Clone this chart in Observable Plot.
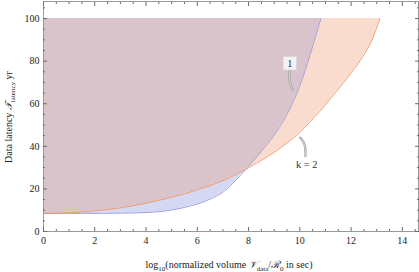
<!DOCTYPE html>
<html><head><meta charset="utf-8">
<script src="https://cdn.jsdelivr.net/npm/d3@7"></script>
<script src="https://cdn.jsdelivr.net/npm/@observablehq/plot@0.6"></script>
<style>body{margin:0;background:#fff} svg{display:block}</style>
</head><body><div id="chart"></div>
<script>
// shared grid of log10 normalized volume
const gridX = [0,0.5,1,1.5,2,2.5,3,3.5,4,4.5,5,5.5,6,6.5,7,7.5,7.85,8,8.5,9,9.5,10,10.4,10.82,11.2,11.6,12,12.5,12.8,13.12];
// curve "1" (blue) – ends where it reaches the top at 100
const blueY = [8.5,8.5,8.5,8.5,8.5,8.55,8.6,8.7,8.9,9.3,10.1,11.3,12.9,15.2,18.5,24,28.6,30.6,37.6,45.3,55,68.5,83,100,null,null,null,null,null,null];
// curve "k = 2" (orange)
const orangeY = [8.5,8.6,8.8,9.2,9.7,10.3,11.1,12.1,13.3,14.6,16.1,17.7,19.6,21.6,23.9,26.7,28.9,29.9,33.4,37.2,41.6,46.5,51.5,57,62.5,68.3,74.5,83,89.5,100];
const topLatency = 100;

const xMajor = [0,2,4,6,8,10,12,14];
const xMinor = d3.range(0, 14.6, 0.5).filter(v => v % 2 !== 0);
const yMajor = [0,20,40,60,80,100];
const yMinor = d3.range(0, 108, 5).filter(v => v % 20 !== 0);

// callouts
const calloutOneText = [{x: 9.61, y: 79, t: "1"}];
const calloutOneLine = [{x: 9.6, y: 75.4}, {x: 9.6, y: 71.2}, {x: 9.72, y: 66.6}];
const calloutTwoText = [{x: 10.27, y: 31.5, t: "k = 2"}];
const calloutTwoLine = [{x: 10.02, y: 44.0}, {x: 10.18, y: 41.0}, {x: 10.22, y: 35.4}];

const rows = gridX.map((x, i) => ({x, blue: blueY[i], orange: orangeY[i]}));
const blueRows = rows.filter(d => d.blue != null);

const frameColor = "#9a9a9a";
const tickColor = "#6a6a6a";

function tickAxes(ticks, size) {
  return [
    Plot.axisX(ticks, {anchor: "bottom", tickSize: -size, fill: "none", stroke: tickColor, label: null}),
    Plot.axisX(ticks, {anchor: "top", tickSize: -size, fill: "none", stroke: tickColor, label: null})
  ];
}

const plot = Plot.plot({
  width: 419, height: 272,
  marginLeft: 43, marginRight: 1, marginTop: 1, marginBottom: 41,
  x: {domain: [0, 14.63]},
  y: {domain: [0, 108]},
  r: {type: "identity"},
  style: {fontFamily: "'Liberation Serif', serif", fontSize: "10px", color: "#222", background: "white"},
  marks: [
    Plot.areaY(blueRows, {x: "x", y1: "blue", y2: topLatency, fill: "#d4d8f3", curve: "monotone-x"}),
    Plot.areaY(rows, {x: "x", y1: "orange", y2: topLatency, fill: "#f9dccd", curve: "monotone-x"}),
    Plot.areaY(blueRows, {x: "x", y1: d => Math.max(d.blue, d.orange), y2: topLatency, fill: "#d9c4cb", curve: "monotone-x"}),
    Plot.line(blueRows, {x: "x", y: "blue", stroke: "#9c9fe0", strokeWidth: 1, curve: "monotone-x"}),
    Plot.line(rows, {x: "x", y: "orange", stroke: "#f29a6a", strokeWidth: 1, curve: "monotone-x"}),
    Plot.line(calloutOneLine, {x: "x", y: "y", stroke: "#a5a5a5", strokeWidth: 2.4, curve: "catmull-rom"}),
    Plot.line(calloutOneLine, {x: "x", y: "y", stroke: "#e6e6e6", strokeWidth: 0.8, curve: "catmull-rom"}),
    Plot.line(calloutTwoLine, {x: "x", y: "y", stroke: "#a5a5a5", strokeWidth: 2.4, curve: "catmull-rom"}),
    Plot.line(calloutTwoLine, {x: "x", y: "y", stroke: "#e6e6e6", strokeWidth: 0.8, curve: "catmull-rom"}),
    Plot.dot(calloutOneText, {x: "x", y: "y", symbol: "square", r: 7.6, fill: "#f4f2f2", stroke: "#d6d6d6", strokeWidth: 0.8}),
    Plot.text(calloutOneText, {x: "x", y: "y", text: "t", fill: "#333", fontSize: 10.5}),
    Plot.text(calloutTwoText, {x: "x", y: "y", text: "t", fill: "#333", fontSize: 10.5}),
    Plot.frame({stroke: frameColor}),
    ...tickAxes(xMajor, 4), ...tickAxes(xMinor, 2),
    Plot.axisY(yMajor, {anchor: "left", tickSize: -4, fill: "none", stroke: tickColor, label: null}),
    Plot.axisY(yMajor, {anchor: "right", tickSize: -4, fill: "none", stroke: tickColor, label: null}),
    Plot.axisY(yMinor, {anchor: "left", tickSize: -2, fill: "none", stroke: tickColor, label: null}),
    Plot.axisY(yMinor, {anchor: "right", tickSize: -2, fill: "none", stroke: tickColor, label: null}),
    Plot.axisX(xMajor, {anchor: "bottom", tickSize: 0, tickPadding: 5, stroke: "none", fill: "#222", label: null}),
    Plot.axisY(yMajor, {anchor: "left", tickSize: 0, tickPadding: 4, stroke: "none", fill: "#222", label: null})
  ]
});
document.getElementById("chart").appendChild(plot);

const svg = d3.select(plot);
// axis titles with subscripts
const xt = svg.append("text").attr("x", 229).attr("y", 268).attr("text-anchor", "middle")
  .attr("fill", "#222").style("font-family", "'Liberation Serif', serif").style("font-size", "10px");
xt.append("tspan").text("log");
xt.append("tspan").attr("dy", 3).style("font-size", "7px").text("10");
xt.append("tspan").attr("dy", -3).text("(normalized volume ");
xt.append("tspan").style("font-style", "italic").text("𝒱");
xt.append("tspan").attr("dy", 2.5).style("font-size", "7px").text("data");
xt.append("tspan").attr("dy", -2.5).text("/");
xt.append("tspan").style("font-style", "italic").text("ℛ");
xt.append("tspan").attr("dy", 2.5).style("font-size", "7px").text("0");
xt.append("tspan").attr("dy", -2.5).text(" in sec)");

const yt = svg.append("text").attr("transform", "translate(12,117) rotate(-90)").attr("text-anchor", "middle")
  .attr("fill", "#222").style("font-family", "'Liberation Serif', serif").style("font-size", "10px");
yt.append("tspan").text("Data latency ");
yt.append("tspan").style("font-style", "italic").text("𝒯");
yt.append("tspan").attr("dy", 2.5).style("font-size", "7px").text("latency");
yt.append("tspan").attr("dy", -2.5).text(" yr");
</script>
</body></html>
